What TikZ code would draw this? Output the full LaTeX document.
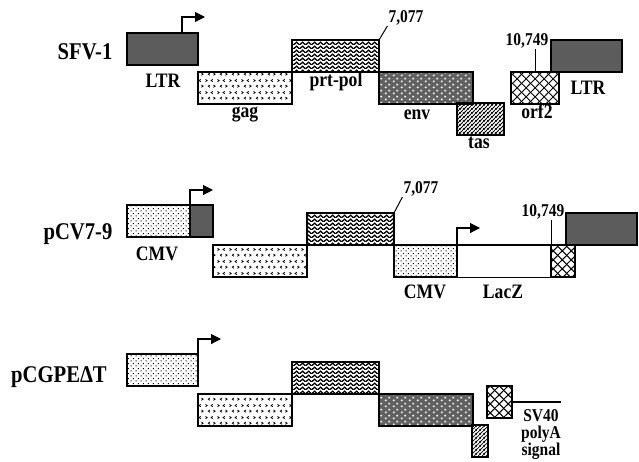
\documentclass[tikz,border=0pt]{standalone}
\usepackage{fontspec}
\setmainfont{Liberation Serif}[FakeStretch=0.86]
\usetikzlibrary{patterns, arrows.meta}

\pgfdeclarepatternformonly{chevrons}{\pgfqpoint{0pt}{0pt}}{\pgfqpoint{12pt}{12pt}}{\pgfqpoint{12pt}{12pt}}{%
  \pgfsetlinewidth{0.8pt}%
  \pgfpathmoveto{\pgfqpoint{1.6pt}{10.2pt}}\pgfpathlineto{\pgfqpoint{3.4pt}{9pt}}\pgfpathlineto{\pgfqpoint{1.6pt}{7.8pt}}%
  \pgfpathmoveto{\pgfqpoint{9.4pt}{10.2pt}}\pgfpathlineto{\pgfqpoint{7.6pt}{9pt}}\pgfpathlineto{\pgfqpoint{9.4pt}{7.8pt}}%
  \pgfpathmoveto{\pgfqpoint{6.4pt}{4.2pt}}\pgfpathlineto{\pgfqpoint{4.6pt}{3pt}}\pgfpathlineto{\pgfqpoint{6.4pt}{1.8pt}}%
  \pgfpathmoveto{\pgfqpoint{10.1pt}{4.2pt}}\pgfpathlineto{\pgfqpoint{11.9pt}{3pt}}\pgfpathlineto{\pgfqpoint{10.1pt}{1.8pt}}%
  \pgfusepath{stroke}}
\pgfdeclarepatternformonly{herringbone}{\pgfqpoint{0pt}{0pt}}{\pgfqpoint{6pt}{4pt}}{\pgfqpoint{6pt}{4pt}}{%
  \pgfsetlinewidth{1.5pt}%
  \pgfpathmoveto{\pgfqpoint{-0.5pt}{0.1pt}}\pgfpathlineto{\pgfqpoint{3pt}{3.4pt}}\pgfpathlineto{\pgfqpoint{6.5pt}{0.1pt}}%
  \pgfusepath{stroke}}
\pgfdeclarepatternformonly{sparsedots}{\pgfqpoint{0pt}{0pt}}{\pgfqpoint{5pt}{5pt}}{\pgfqpoint{5pt}{5pt}}{%
  \pgfpathrectangle{\pgfqpoint{0.8pt}{0.8pt}}{\pgfqpoint{1.2pt}{1.2pt}}%
  \pgfpathrectangle{\pgfqpoint{3.3pt}{3.3pt}}{\pgfqpoint{1.2pt}{1.2pt}}%
  \pgfusepath{fill}}
\pgfdeclarepatternformonly{whitedots}{\pgfqpoint{0pt}{0pt}}{\pgfqpoint{8pt}{6pt}}{\pgfqpoint{8pt}{6pt}}{%
  \pgfpathrectangle{\pgfqpoint{1pt}{1pt}}{\pgfqpoint{1.8pt}{1.8pt}}%
  \pgfpathrectangle{\pgfqpoint{5pt}{4pt}}{\pgfqpoint{1.8pt}{1.8pt}}%
  \pgfusepath{fill}}
\pgfdeclarepatternformonly{hatch}{\pgfqpoint{0pt}{0pt}}{\pgfqpoint{4pt}{4pt}}{\pgfqpoint{4pt}{4pt}}{%
  \pgfsetlinewidth{0.9pt}%
  \pgfpathmoveto{\pgfqpoint{-1pt}{-1pt}}\pgfpathlineto{\pgfqpoint{5pt}{5pt}}%
  \pgfpathmoveto{\pgfqpoint{-1pt}{3pt}}\pgfpathlineto{\pgfqpoint{1pt}{5pt}}%
  \pgfpathmoveto{\pgfqpoint{3pt}{-1pt}}\pgfpathlineto{\pgfqpoint{5pt}{1pt}}%
  \pgfusepath{stroke}}
\pgfdeclarepatternformonly{widecross}{\pgfqpoint{0pt}{0pt}}{\pgfqpoint{9pt}{9pt}}{\pgfqpoint{9pt}{9pt}}{%
  \pgfsetlinewidth{1.1pt}%
  \pgfpathmoveto{\pgfqpoint{-1pt}{-1pt}}\pgfpathlineto{\pgfqpoint{10pt}{10pt}}%
  \pgfpathmoveto{\pgfqpoint{-1pt}{10pt}}\pgfpathlineto{\pgfqpoint{10pt}{-1pt}}%
  \pgfusepath{stroke}}

\begin{document}
\begin{tikzpicture}[x=1pt, y=-1pt,
    seg/.style={draw, line width=2pt, inner sep=0pt, outer sep=0pt, anchor=north west, minimum height=32pt},
    ltrbox/.style={seg, fill=black!64},
    gagbox/.style={seg, pattern=chevrons},
    polbox/.style={seg, pattern=herringbone},
    envbox/.style={seg, preaction={fill=black!62}, pattern=whitedots, pattern color=white},
    tasbox/.style={seg, pattern=hatch},
    orfbox/.style={seg, pattern=widecross},
    cmvbox/.style={seg, pattern=sparsedots},
    laczbox/.style={seg, line width=1pt, fill=white},
    construct/.style={font=\fontsize{24}{26}\selectfont\bfseries, anchor=base, inner sep=0pt},
    lbl/.style={font=\fontsize{20.5}{21}\selectfont\bfseries, anchor=base, inner sep=1pt},
    numlbl/.style={font=\fontsize{18}{19}\selectfont\bfseries, anchor=base, inner sep=1pt},
    tss/.style={-{Triangle[length=10pt, width=10pt]}, line width=1.1pt},
    lead/.style={line width=1pt}
]
    \useasboundingbox (0,0) rectangle (639,461);

    \node[construct] (sfv) at (85,59) {SFV-1};
    \node[ltrbox, minimum width=71pt] (ltrA) at (127,33) {};
    \node[gagbox, minimum width=94pt] (gagA) at (198,72) {};
    \node[polbox, minimum width=87pt] (polA) at (292,40) {};
    \node[envbox, minimum width=94pt] (envA) at (379,72) {};
    \node[tasbox, minimum width=47pt] (tasA) at (457,103) {};
    \node[orfbox, minimum width=48pt] (orfA) at (511,72) {};
    \node[ltrbox, minimum width=71pt] (ltrB) at (551,40) {};
    \coordinate (tssA) at ([xshift=-16pt]ltrA.north east);

    \node[lbl] (ltrAlbl) at (163,87) {LTR};
    \node[lbl] (gagAlbl) at (245,117) {gag};
    \node[lbl] (polAlbl) at (336,86) {prt-pol};
    \node[numlbl] (n7077A) at (406,22) {7,077};
    \node[lbl] (envAlbl) at (417,119) {env};
    \node[lbl] (tasAlbl) at (479,148) {tas};
    \node[lbl] (orfAlbl) at (537,118) {orf2};
    \node[numlbl] (n10749A) at (527,45) {10,749};
    \node[lbl] (ltrBlbl) at (588,94) {LTR};

    \draw[tss] (tssA) |- ++(23,-16);
    \draw[lead] (polA.north east) -- (n7077A.south west);
    \draw[lead] (orfA.north) -- (orfA.north |- n10749A.south);

    \node[construct] (pcv) at (78,239) {pCV7-9};
    \node[cmvbox, minimum width=63pt] (cmvA) at (127,205) {};
    \node[ltrbox, minimum width=23pt] (ltrC) at (190,205) {};
    \node[gagbox, minimum width=94pt] (gagB) at (213,245) {};
    \node[polbox, minimum width=87pt] (polB) at (307,213) {};
    \node[cmvbox, minimum width=63pt] (cmvB) at (394,245) {};
    \node[laczbox, minimum width=94pt] (lacz) at (457,245) {};
    \node[orfbox, minimum width=24pt] (orfB) at (551,245) {};
    \node[ltrbox, minimum width=71pt] (ltrD) at (566,213) {};
    \draw[line width=2pt] (lacz.north west) -- (lacz.north east);

    \node[lbl] (cmvAlbl) at (157,260) {CMV};
    \node[numlbl] (n7077B) at (421,193) {7,077};
    \node[numlbl] (n10749B) at (543,216) {10,749};
    \node[lbl] (cmvBlbl) at (425,298) {CMV};
    \node[lbl] (laczlbl) at (503,298) {LacZ};

    \draw[tss] (cmvA.north east) |- ++(23,-15);
    \draw[tss] (lacz.north west) |- ++(23,-17);
    \draw[lead] (polB.north east) -- (n7077B.south west);
    \draw[lead] (orfB.north west) -- (orfB.north west |- n10749B.south);

    \node[construct] (pcg) at (59,382) {pCGPEΔT};
    \node[cmvbox, minimum width=71pt] (cmvC) at (127,354) {};
    \node[gagbox, minimum width=94pt] (gagC) at (198,394) {};
    \node[polbox, minimum width=87pt] (polC) at (292,362) {};
    \node[envbox, minimum width=94pt] (envC) at (379,394) {};
    \node[tasbox, minimum width=16pt] (tasC) at (472,425) {};
    \node[orfbox, minimum width=25pt] (orfC) at (487,386) {};
    \node[lbl, font=\fontsize{18}{17}\selectfont\bfseries, align=center, anchor=north, inner sep=0pt] (svlbl) at (541,409) {SV40\\polyA\\signal};

    \draw[tss] (cmvC.north east) |- ++(23,-15);
    \draw[line width=2.2pt] (orfC.east) -- (orfC.east -| svlbl.east);
\end{tikzpicture}
\end{document}
